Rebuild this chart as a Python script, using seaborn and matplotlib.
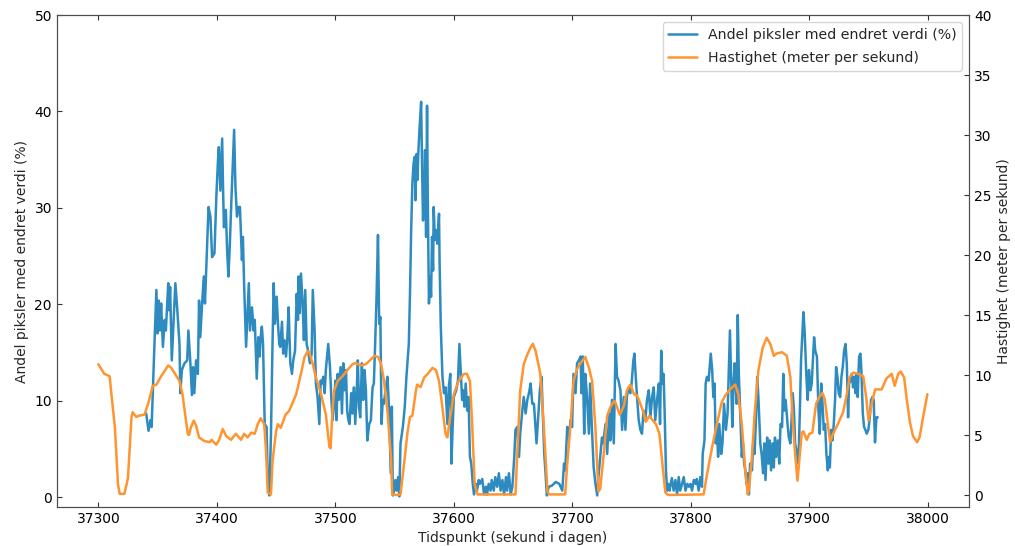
import numpy as np
import pandas as pd
import seaborn as sns
import matplotlib
matplotlib.use("Agg")
import matplotlib.pyplot as plt

# andel piksler med endret verdi (%), lest av figuren
piksel_tid = [
    37340.4, 37342.4, 37344, 37345, 37347, 37349, 37350, 37351, 37352, 37353,
    37354.5, 37356, 37357, 37359, 37359.6, 37360.6, 37362, 37365, 37366.5, 37368.5,
    37369.2, 37370.5, 37372.7, 37375, 37376, 37377.7, 37379, 37380, 37381, 37382.5,
    37384, 37385, 37386, 37387.6, 37389, 37390, 37391, 37393, 37394.6, 37396,
    37398, 37399.6, 37401, 37401.7, 37403, 37404.5, 37405.3, 37406, 37407.6, 37408.7,
    37409.8, 37411, 37412, 37413.5, 37414.6, 37415.7, 37417, 37418.5, 37419.5, 37420.5,
    37421.2, 37422, 37423, 37424.7, 37427, 37428, 37429.7, 37431, 37432, 37433.7,
    37435, 37436, 37437, 37438, 37439, 37440.4, 37442, 37443, 37444.3, 37445.7,
    37447, 37448, 37449, 37450.5, 37451.6, 37452.7, 37453.5, 37455, 37456, 37457,
    37458.4, 37459.5, 37460.6, 37462, 37463.4, 37464.5, 37466, 37467.4, 37468.5, 37469,
    37470, 37471, 37472.4, 37473.5, 37474.6, 37475.8, 37477, 37478.6, 37480, 37481,
    37482.5, 37483.6, 37485, 37486.5, 37487.6, 37488.6, 37489.8, 37491, 37492, 37493,
    37494, 37495.5, 37496.6, 37497.7, 37499, 37500, 37501, 37502, 37503, 37504.4,
    37505.6, 37506.7, 37507.8, 37509, 37510, 37511, 37512, 37513.4, 37514.5, 37515.7,
    37516.8, 37518, 37519, 37520, 37521, 37522.4, 37523.5, 37524.6, 37525.8, 37527,
    37528.6, 37530, 37531.4, 37532.5, 37533.6, 37534.7, 37536, 37537, 37538, 37539,
    37540, 37541, 37542.6, 37544, 37545.4, 37546.8, 37547.7, 37548.5, 37549.6, 37550.7,
    37551.8, 37553, 37554, 37555, 37557, 37558.6, 37560, 37562, 37563, 37564,
    37565, 37566, 37567, 37567.6, 37568.5, 37569.3, 37570, 37571, 37572.4, 37573.2,
    37574, 37575, 37575.7, 37576.6, 37577.4, 37578, 37579, 37580, 37580.8, 37581.6,
    37582.5, 37583, 37584, 37585, 37586, 37587.5, 37588, 37589, 37590.4, 37591.7,
    37593, 37594.6, 37595.7, 37597, 37598, 37599, 37600, 37602, 37603.5, 37604.7,
    37605.8, 37607, 37608, 37609, 37610, 37611.3, 37612.4, 37613.6, 37614.7, 37616,
    37617, 37618.5, 37619.5, 37621, 37622, 37624, 37625.5, 37627, 37628, 37629.4,
    37631, 37632, 37633.7, 37635, 37636.6, 37638, 37639.5, 37641, 37642.4, 37644,
    37645, 37646.5, 37648, 37649.4, 37651, 37652, 37653.5, 37655, 37656, 37657.8,
    37659, 37660.6, 37662, 37663.4, 37664.8, 37666.2, 37667.6, 37669.8, 37671, 37672.6,
    37674, 37675, 37676.3, 37677.4, 37678.5, 37680, 37682.6, 37684.4, 37686, 37689,
    37691.5, 37693, 37694, 37695.7, 37697, 37698.5, 37699.8, 37701, 37702.7, 37704,
    37705.5, 37707, 37707.7, 37708.8, 37710, 37711, 37712.4, 37714, 37715, 37716.7,
    37718, 37719.5, 37721, 37722, 37723.5, 37725, 37726, 37728, 37729.4, 37731,
    37732, 37733.5, 37735, 37736.5, 37737.7, 37739, 37740.6, 37742, 37743.4, 37744.8,
    37746, 37747.5, 37749, 37750, 37751.5, 37752.4, 37753.5, 37754.6, 37756, 37757.4,
    37758.8, 37760, 37761.6, 37763, 37764.5, 37765.9, 37767.3, 37768.7, 37770, 37771.5,
    37773, 37774, 37775, 37776, 37777, 37778, 37779, 37780, 37781, 37782,
    37784, 37785.5, 37787, 37788.4, 37789.8, 37791, 37792.6, 37794, 37795.5, 37797,
    37798.3, 37799.7, 37801, 37802.5, 37804, 37805, 37806.6, 37808, 37809.4, 37810,
    37811.5, 37812.5, 37813.6, 37815, 37816.8, 37818, 37819, 37820, 37821, 37822,
    37823, 37824, 37825.6, 37826.7, 37828, 37829.6, 37831, 37833, 37834, 37835,
    37836, 37837, 37838.6, 37839.6, 37840.5, 37841.6, 37843, 37844, 37845, 37846,
    37847, 37848.3, 37849, 37850, 37851.6, 37852.7, 37853.8, 37855, 37856, 37857,
    37858.6, 37859.7, 37861, 37862, 37863, 37864.4, 37865.5, 37866.6, 37867.7, 37869,
    37870, 37871, 37872, 37873.5, 37874.6, 37875.7, 37877, 37878, 37879, 37880,
    37881.6, 37882.7, 37884, 37885, 37886, 37887, 37888, 37889.7, 37890.8, 37892,
    37893, 37894, 37895, 37896, 37897.5, 37898.6, 37899.7, 37901, 37902, 37903,
    37904, 37905, 37906.4, 37907.7, 37908.8, 37910, 37911.1, 37912.2, 37913.3, 37914.4,
    37915.6, 37916.4, 37917.3, 37918.4, 37919.5, 37920.6, 37921.7, 37922.6, 37923.7, 37924.8,
    37926, 37927.1, 37928.2, 37929.3, 37930.5, 37931.6, 37932.7, 37933.5, 37934.7, 37935.8,
    37936.9, 37938, 37938.9, 37939.7, 37940.8, 37942, 37943.1, 37943.9, 37945.1, 37946.2,
    37947.3, 37948.4, 37949.8, 37951, 37952.1, 37953.2, 37954.3, 37955.4, 37956.6, 37957.7,
]
piksel_andel = [
    8.7, 6.9, 8.0, 7.3, 14.6, 21.5, 17.0, 20.4, 17.3, 20.1,
    15.6, 18.4, 17.3, 22.2, 19.4, 21.8, 14.2, 22.2, 19.7, 15.9,
    10.8, 13.2, 13.9, 14.2, 17.3, 13.9, 10.6, 13.5, 10.8, 14.2,
    12.8, 20.4, 16.6, 20.1, 22.9, 20.1, 23.5, 30.1, 29.1, 24.9,
    25.3, 31.2, 35.0, 36.3, 31.8, 37.2, 31.8, 28.0, 29.8, 25.6,
    22.9, 26.3, 29.8, 34.6, 38.1, 32.2, 29.1, 30.1, 30.1, 26.7,
    24.6, 27.0, 22.2, 15.6, 22.2, 17.3, 19.7, 17.3, 18.4, 12.3,
    16.6, 14.6, 16.6, 17.7, 15.9, 7.6, 7.3, 1.4, 0.2, 6.6,
    15.9, 22.2, 18.0, 20.8, 18.0, 15.9, 15.6, 18.2, 14.9, 16.3,
    14.6, 16.6, 19.7, 13.9, 12.8, 14.2, 15.2, 21.1, 18.4, 22.9,
    19.1, 23.2, 20.1, 16.3, 21.5, 15.9, 15.2, 13.9, 14.9, 21.5,
    17.3, 11.8, 10.4, 7.6, 12.1, 11.8, 12.5, 10.8, 13.2, 14.6,
    15.9, 13.5, 10.4, 8.0, 9.7, 12.1, 8.0, 12.8, 10.1, 13.5,
    8.7, 13.9, 11.1, 13.2, 9.0, 8.0, 7.6, 10.8, 8.7, 11.4,
    7.6, 10.8, 14.2, 9.4, 8.3, 13.9, 10.1, 13.2, 11.1, 5.9,
    7.6, 8.0, 11.4, 11.8, 15.9, 20.4, 27.2, 18.0, 18.7, 7.6,
    10.1, 9.7, 11.4, 12.5, 9.0, 2.5, 9.4, 0.2, 0.7, 1.8,
    0.7, 2.1, 0.1, 5.6, 7.3, 9.4, 12.5, 15.9, 21.1, 27.7,
    32.5, 34.6, 35.3, 30.8, 35.6, 32.9, 35.6, 38.1, 41.0, 34.3,
    28.7, 31.2, 36.0, 27.0, 40.6, 31.2, 20.1, 22.9, 20.8, 27.0,
    23.5, 30.1, 26.7, 27.7, 26.3, 29.4, 24.2, 17.7, 12.5, 10.8,
    11.4, 7.6, 11.4, 12.8, 3.5, 7.3, 10.4, 11.1, 12.1, 15.9,
    13.2, 10.1, 11.1, 9.4, 11.8, 9.0, 10.4, 4.2, 3.5, 1.4,
    0.3, 1.4, 0.7, 1.8, 1.4, 1.9, 0.3, 1.1, 0.3, 1.4,
    0.7, 1.8, 0.7, 2.1, 1.1, 2.5, 0.7, 1.8, 0.3, 2.1,
    0.7, 2.5, 0.3, 1.1, 4.2, 7.0, 7.3, 4.2, 6.6, 9.0,
    10.4, 8.7, 10.1, 10.8, 11.8, 9.7, 9.7, 5.6, 8.0, 11.1,
    12.5, 9.0, 4.5, 2.5, 0.2, 1.1, 1.2, 1.4, 1.6, 1.4,
    0.7, 3.5, 2.8, 7.3, 6.2, 8.0, 7.3, 12.8, 10.8, 13.9,
    14.2, 14.6, 10.8, 14.6, 6.6, 12.8, 10.4, 6.6, 11.8, 6.6,
    3.1, 1.4, 0.2, 2.1, 4.2, 6.2, 5.6, 7.6, 4.5, 8.7,
    5.9, 10.1, 5.6, 15.9, 12.5, 12.1, 11.1, 7.0, 10.4, 7.0,
    10.4, 11.4, 10.8, 11.8, 14.2, 14.9, 12.5, 10.4, 8.0, 7.0,
    6.6, 9.0, 8.0, 10.1, 11.1, 8.3, 10.4, 11.4, 8.0, 10.1,
    11.8, 7.6, 15.2, 11.8, 12.8, 8.3, 2.8, 0.7, 1.4, 0.7,
    2.0, 0.7, 1.8, 0.3, 2.1, 0.7, 1.4, 2.1, 0.7, 1.4,
    1.1, 1.4, 0.7, 1.8, 1.4, 1.9, 0.7, 2.1, 1.1, 4.5,
    5.9, 11.8, 12.5, 12.1, 14.9, 13.2, 10.4, 11.8, 5.6, 7.3,
    4.2, 7.6, 4.5, 5.6, 9.7, 7.0, 8.7, 17.3, 12.5, 7.3,
    11.8, 13.9, 9.7, 18.9, 12.8, 9.0, 4.2, 5.6, 3.5, 2.8,
    1.4, 2.5, 0.3, 3.5, 2.8, 5.9, 4.5, 8.3, 12.5, 10.4,
    5.6, 4.5, 2.5, 5.6, 1.8, 6.2, 3.5, 5.9, 2.8, 5.6,
    3.1, 6.2, 4.2, 5.9, 3.5, 7.6, 7.3, 12.8, 9.0, 10.1,
    7.6, 6.2, 5.6, 8.0, 10.8, 9.0, 5.6, 4.5, 3.5, 9.0,
    14.2, 16.6, 19.2, 17.3, 12.5, 10.1, 13.2, 11.1, 11.8, 14.2,
    16.6, 15.2, 14.6, 9.0, 6.6, 11.8, 9.7, 7.0, 7.6, 4.5,
    2.8, 4.2, 3.1, 7.0, 5.9, 7.6, 10.1, 13.5, 12.5, 10.8,
    10.4, 12.5, 13.5, 15.2, 15.9, 13.9, 8.3, 11.8, 12.1, 12.8,
    11.4, 12.5, 10.8, 12.8, 10.4, 14.6, 14.9, 13.2, 8.7, 7.3,
    7.0, 6.6, 7.0, 8.3, 10.1, 10.4, 10.1, 5.7, 8.3, 8.3,
]

# hastighet (meter per sekund)
fart_tid = [
    37300, 37305, 37309.5, 37314, 37316.6, 37318, 37322, 37325, 37328, 37329,
    37332, 37334, 37339, 37342, 37346, 37349, 37353, 37359, 37361.5, 37366,
    37368.5, 37371, 37374, 37375.5, 37376.5, 37378, 37380.5, 37382.5, 37385, 37389.5,
    37394, 37395.5, 37399.5, 37402, 37405, 37408, 37412, 37416, 37420.5, 37423,
    37426, 37429, 37432, 37434.5, 37437, 37440, 37441.5, 37443, 37445.7, 37447,
    37450, 37451.4, 37454, 37458, 37461, 37467, 37471, 37474, 37476.7, 37478,
    37481, 37483.6, 37488, 37492, 37495, 37496, 37497.6, 37499, 37502, 37506,
    37510, 37514.5, 37517, 37521.6, 37525.8, 37530, 37533, 37536, 37538.4, 37541,
    37544, 37547, 37548, 37551, 37555, 37558, 37561, 37563, 37565, 37568,
    37569, 37572, 37575, 37578, 37582, 37585, 37587.5, 37590, 37593, 37594.5,
    37597, 37600, 37604, 37608.6, 37611, 37613.6, 37615.6, 37617.6, 37620, 37652,
    37653.5, 37656, 37659, 37662, 37664.8, 37666.7, 37669, 37673, 37676, 37679,
    37680.5, 37694, 37695.7, 37698.5, 37701, 37704, 37707, 37711, 37714, 37716.7,
    37719.5, 37722, 37723.5, 37726.5, 37729.4, 37732, 37735, 37736, 37740, 37743.4,
    37746, 37749, 37752, 37754.6, 37757.4, 37760, 37762, 37765, 37768, 37770.6,
    37773.5, 37776, 37778.5, 37781, 37810.8, 37813.6, 37818, 37822, 37826, 37829,
    37833, 37837.5, 37840, 37843, 37846, 37848, 37849, 37851.5, 37854, 37857,
    37860.7, 37864, 37867, 37870, 37872.5, 37877, 37881, 37884, 37886, 37888,
    37890, 37891.6, 37893.6, 37895, 37897.8, 37900, 37902.6, 37905.7, 37908.5, 37911,
    37913, 37915.6, 37917.5, 37920, 37924, 37928.5, 37931.6, 37934, 37937, 37941,
    37945.5, 37948, 37950, 37952.6, 37955.5, 37961, 37965, 37969.5, 37972, 37975,
    37977, 37980, 37982, 37985, 37987.5, 37991, 37993, 37996, 37999.6,
]
fart = [
    10.9, 10.1, 9.9, 5.6, 0.9, 0.1, 0.1, 1.4, 6.5, 6.9,
    6.5, 6.6, 6.7, 7.6, 9.1, 9.2, 9.9, 10.8, 10.6, 9.9,
    9.5, 8.4, 6.2, 5.1, 5.0, 5.6, 6.2, 5.8, 4.8, 4.5,
    4.4, 4.6, 4.2, 4.6, 5.5, 4.9, 4.6, 5.1, 4.6, 5.1,
    4.8, 5.2, 5.1, 5.9, 6.4, 5.9, 3.7, 0.2, 0.05, 2.8,
    5.3, 5.9, 5.6, 6.7, 7.0, 8.4, 10.1, 11.5, 12.0, 11.9,
    10.9, 9.8, 8.4, 6.7, 4.0, 3.9, 7.0, 8.7, 9.5, 9.9,
    10.4, 10.9, 11.0, 10.8, 10.9, 11.3, 11.6, 11.5, 11.0, 9.6,
    7.0, 3.1, 0.05, 0.0, 0.05, 2.6, 5.3, 6.5, 6.6, 8.7,
    9.2, 9.0, 9.8, 10.1, 10.6, 10.4, 9.5, 7.6, 5.1, 4.8,
    6.5, 8.4, 9.5, 10.1, 10.1, 9.5, 5.6, 0.9, 0.05, 0.05,
    3.4, 8.7, 10.9, 11.7, 12.3, 12.6, 12.0, 10.1, 5.6, 0.3,
    0.05, 0.05, 2.6, 5.9, 9.5, 10.5, 11.0, 11.5, 10.6, 9.5,
    5.6, 0.3, 0.5, 3.4, 6.6, 7.3, 7.8, 7.8, 6.7, 7.4,
    8.7, 9.2, 8.4, 8.3, 7.6, 6.9, 6.1, 6.6, 6.2, 5.9,
    5.1, 2.6, 0.2, 0.0, 0.05, 1.7, 4.0, 5.9, 7.7, 8.3,
    8.8, 9.2, 8.4, 5.9, 2.0, 0.05, 0.5, 3.1, 7.0, 10.4,
    12.3, 13.1, 12.6, 11.6, 11.8, 11.9, 11.6, 9.8, 6.2, 3.4,
    1.2, 3.0, 5.2, 5.3, 4.6, 5.1, 5.2, 7.6, 8.2, 8.5,
    8.0, 5.9, 4.4, 5.1, 5.9, 6.9, 8.4, 9.8, 10.2, 10.1,
    9.9, 8.1, 6.2, 7.6, 8.8, 8.8, 9.7, 10.1, 9.1, 10.1,
    10.3, 9.8, 8.1, 6.0, 4.9, 4.4, 4.8, 6.5, 8.4,
]

blaa = "#2e8bc0"
oransje = "#ff9430"

sns.set_style("ticks", {"xtick.direction": "in", "ytick.direction": "in",
                        "axes.edgecolor": "0.3"})
plt.rcParams["font.family"] = ["DejaVu Sans"]
plt.rcParams["font.size"] = 10

df_piksel = pd.DataFrame({"tid": piksel_tid, "andel": piksel_andel})
df_fart = pd.DataFrame({"tid": fart_tid, "fart": fart})

fig, ax = plt.subplots(figsize=(10.15, 5.46), dpi=100)
fig.subplots_adjust(left=0.056, right=0.955, top=0.9725, bottom=0.0714)
ax2 = ax.twinx()

sns.lineplot(data=df_piksel, x="tid", y="andel", ax=ax, color=blaa, lw=1.8,
             estimator=None, label="Andel piksler med endret verdi (%)", legend=False)
sns.lineplot(data=df_fart, x="tid", y="fart", ax=ax2, color=oransje, lw=1.8,
             estimator=None, label="Hastighet (meter per sekund)", legend=False)

ax.set_xlim(37265, 38035)
ax.set_ylim(-1, 50)
ax2.set_ylim(-1, 40)
ax.set_xticks([37300, 37400, 37500, 37600, 37700, 37800, 37900, 38000])
ax.set_yticks([0, 10, 20, 30, 40, 50])
ax2.set_yticks([0, 5, 10, 15, 20, 25, 30, 35, 40])
ax.tick_params(axis="x", top=True, labelsize=10, colors="0.2", labelcolor="black")
ax.tick_params(axis="y", labelsize=10, colors="0.2", labelcolor="black")
ax2.tick_params(axis="y", labelsize=10, colors="0.2", labelcolor="black")

ax.set_xlabel("Tidspunkt (sekund i dagen)", fontsize=10)
ax.set_ylabel("Andel piksler med endret verdi (%)", fontsize=10)
ax2.set_ylabel("Hastighet (meter per sekund)", fontsize=10)

h1, l1 = ax.get_legend_handles_labels()
h2, l2 = ax2.get_legend_handles_labels()
ax2.legend(h1 + h2, l1 + l2, loc="upper right", fontsize=10.2, labelspacing=0.65)

fig.savefig("out.png", dpi=100)
